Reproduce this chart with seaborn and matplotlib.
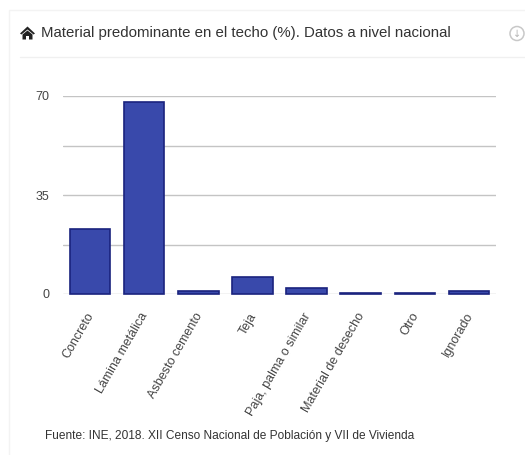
import matplotlib
matplotlib.use('Agg')
import matplotlib.pyplot as plt
from matplotlib.patches import Circle, Polygon, Rectangle
from matplotlib.transforms import ScaledTranslation
import pandas as pd
import seaborn as sns

categories = ['Concreto', 'Lámina metálica', 'Asbesto cemento', 'Teja',
              'Paja, palma o similar', 'Material de desecho', 'Otro', 'Ignorado']
values = [23, 68, 1, 6, 2, 0.2, 0.2, 1]
grid_values = [0, 17.5, 35, 52.5, 70]
tick_labels = ['0', '', '35', '', '70']
title = 'Material predominante en el techo (%). Datos a nivel nacional'
source = 'Fuente: INE, 2018. XII Censo Nacional de Población y VII de Vivienda'

W, H = 525, 455
sns.set_theme(style='white')
plt.rcParams['font.family'] = ['Liberation Sans', 'DejaVu Sans']

fig = plt.figure(figsize=(W / 100, H / 100), dpi=100, facecolor='white')

# card, header line and icons, in pixel coords
bg = fig.add_axes([0, 0, 1, 1])
bg.set_xlim(0, W)
bg.set_ylim(H, 0)
bg.axis('off')
bg.add_patch(Rectangle((8.5, 9.5), 530, 460, fc='white', ec='#f3f3f3', lw=1))
bg.plot([20, 525], [56.5, 56.5], color='#f0f0f0', lw=1)
bg.add_patch(Polygon([(20, 33.5), (27.5, 26.5), (35, 33.5), (33.5, 34.5), (27.5, 29.5), (21.5, 34.5)], color='#222222', lw=0))
bg.add_patch(Polygon([(22.5, 34.5), (27.5, 30.5), (32.5, 34.5), (32.5, 39.5), (29, 39.5), (29, 36),
                      (26, 36), (26, 39.5), (22.5, 39.5)], color='#222222', lw=0))
bg.text(41, 33, title, fontsize=10.8, color='#333333', va='center', ha='left')
bg.add_patch(Circle((517, 33.5), 7, fc='white', ec='#c8c8c8', lw=1.1))
bg.text(517, 33.5, '↓', fontsize=7, color='#b5b5b5', ha='center', va='center', family='DejaVu Sans')
bg.text(45, 436, source, fontsize=8.6, color='#333333', va='center', ha='left')

# chart
ax = fig.add_axes([63 / W, 1 - 294 / H, (496 - 63) / W, 198 / H])
ax.patch.set_alpha(0)
df = pd.DataFrame({'material': categories, 'pct': values})
for g in grid_values:
    ax.axhline(g, color='#c4c4c4', lw=1, zorder=0)
sns.barplot(data=df, x='material', y='pct', color='#3949ab', saturation=1, width=0.75,
            edgecolor='#1a237e', linewidth=1.2, ax=ax, zorder=2)
ax.set_xlim(-0.5, 7.5)
ax.set_ylim(0, 70)
ax.set_xlabel('')
ax.set_ylabel('')
sns.despine(ax=ax, left=True, bottom=True, top=True, right=True)
for p in ax.patches:
    p.set_clip_on(False)
ax.set_yticks(grid_values, tick_labels)
ax.tick_params(axis='y', length=0, pad=10, labelsize=9, labelcolor='#444444')
ax.tick_params(axis='x', length=0, pad=12, labelsize=9, labelcolor='#444444')
ax.set_xticks(range(len(categories)))
ax.set_xticklabels(categories, rotation=60, ha='right', rotation_mode='anchor')
shift = ScaledTranslation(-4 / 100, 0, fig.dpi_scale_trans)
for lab in ax.get_xticklabels():
    lab.set_transform(lab.get_transform() + shift)

fig.savefig('out.png', dpi=100)
